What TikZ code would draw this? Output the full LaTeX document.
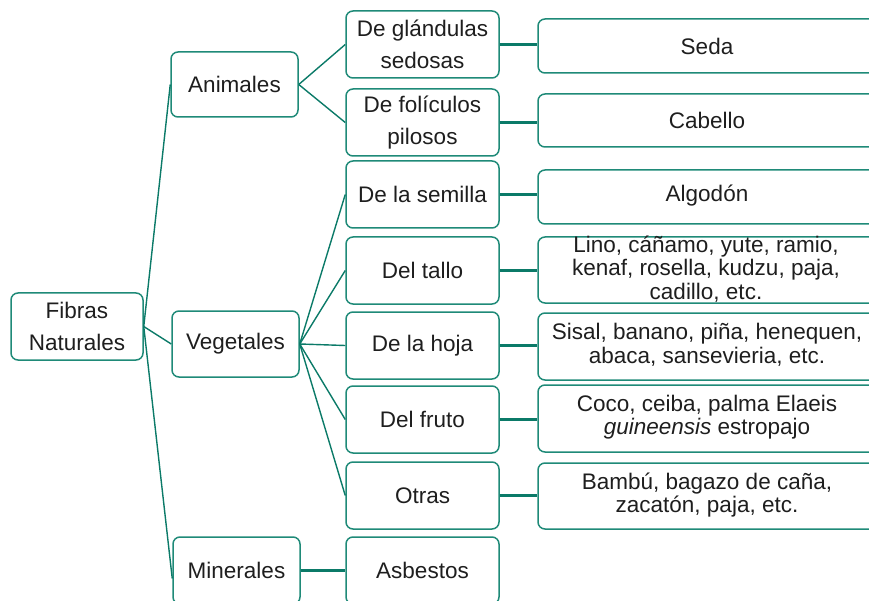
\documentclass[tikz,border=0pt]{standalone}
\usepackage{fontspec}
\setmainfont{Liberation Sans}
\definecolor{boxline}{HTML}{1F8A78}
\definecolor{conline}{HTML}{0B7A68}
\definecolor{txt}{HTML}{1E1E1E}
\tikzset{
  box/.style={draw=boxline, line width=1.5pt, rounded corners=7pt, inner sep=0pt,
    align=center, text=txt, font=\fontsize{22.5}{32}\selectfont},
  rbox/.style={box},
  rtext/.style={text=txt, align=center, inner sep=0pt, font=\fontsize{22.5}{23.5}\selectfont},
  conn/.style={draw=conline, line width=1.4pt},
  hconn/.style={draw=conline, line width=2.2pt},
}
\begin{document}
\begin{tikzpicture}[x=1pt,y=-1pt]
\useasboundingbox (0,0) rectangle (869,601);
\clip (0,0) rectangle (869,601);
% level 0
\node[box, minimum width=132pt, minimum height=67pt] (fib) at (77,326.5) {Fibras\\Naturales};
% level 1
\node[box, minimum width=127pt, minimum height=65pt] (ani) at (234.5,84.5) {Animales};
\node[box, minimum width=127pt, minimum height=66pt] (veg) at (235.5,344) {Vegetales};
\node[box, minimum width=127pt, minimum height=67pt] (min) at (236.5,570.5) {Minerales};
% level 2
\node[box, minimum width=153pt, minimum height=67pt] (gla) at (422.5,44.5) {De glándulas\\sedosas};
\node[box, minimum width=153pt, minimum height=67pt] (fol) at (422.5,122.5) {De folículos\\pilosos};
\node[box, minimum width=153pt, minimum height=67pt] (sem) at (422.5,194.5) {De la semilla};
\node[box, minimum width=153pt, minimum height=67pt] (tal) at (422.5,270.5) {Del tallo};
\node[box, minimum width=153pt, minimum height=67pt] (hoj) at (422.5,345.5) {De la hoja};
\node[box, minimum width=153pt, minimum height=67pt] (fru) at (422.5,419.5) {Del fruto};
\node[box, minimum width=153pt, minimum height=67pt] (otr) at (422.5,495.5) {Otras};
\node[box, minimum width=153pt, minimum height=67pt] (asb) at (422.5,570.5) {Asbestos};
% level 3 (text centred on the visible part of the boxes)
\node[rbox, minimum width=342pt, minimum height=54pt] (seda) at (709,46) {};
\node[rtext] (sedat) at (707,46) {Seda};
\node[rbox, minimum width=342pt, minimum height=53pt] (cab) at (709,120.5) {};
\node[rtext] (cabt) at (707,120.5) {Cabello};
\node[rbox, minimum width=342pt, minimum height=54pt] (alg) at (709,197) {};
\node[rtext] (algt) at (707,196) {Algodón};
\node[rbox, minimum width=342pt, minimum height=66pt] (lino) at (709,270) {};
\node[rtext] (linot) at (706,269) {Lino, cáñamo, yute, ramio,\\kenaf, rosella, kudzu, paja,\\cadillo, etc.};
\node[rbox, minimum width=342pt, minimum height=67pt] (sis) at (709,346.5) {};
\node[rtext] (sist) at (707,345) {Sisal, banano, piña, henequen,\\abaca, sansevieria, etc.};
\node[rbox, minimum width=342pt, minimum height=67pt] (coco) at (709,418.5) {};
\node[rtext] (cocot) at (707,417) {Coco, ceiba, palma Elaeis\\\textit{guineensis} estropajo};
\node[rbox, minimum width=342pt, minimum height=66pt] (bam) at (709,496) {};
\node[rtext] (bamt) at (707,495) {Bambú, bagazo de caña,\\zacatón, paja, etc.};
% connectors
\draw[conn] (fib.east) -- (ani.west);
\draw[conn] (fib.east) -- (veg.west);
\draw[conn] (fib.east) -- ([yshift=-8pt]min.west);
\draw[conn] (ani.east) -- (gla.west);
\draw[conn] (ani.east) -- (fol.west);
\draw[conn] (veg.east) -- (sem.west);
\draw[conn] (veg.east) -- (tal.west);
\draw[conn] (veg.east) -- (hoj.west);
\draw[conn] (veg.east) -- (fru.west);
\draw[conn] (veg.east) -- (otr.west);
\draw[hconn] (min.east) -- (asb.west);
\draw[hconn] (gla.east) -- (gla.east -| seda.west);
\draw[hconn] (fol.east) -- (fol.east -| cab.west);
\draw[hconn] (sem.east) -- (sem.east -| alg.west);
\draw[hconn] (tal.east) -- (tal.east -| lino.west);
\draw[hconn] (hoj.east) -- (hoj.east -| sis.west);
\draw[hconn] (fru.east) -- (fru.east -| coco.west);
\draw[hconn] (otr.east) -- (otr.east -| bam.west);
\end{tikzpicture}
\end{document}
